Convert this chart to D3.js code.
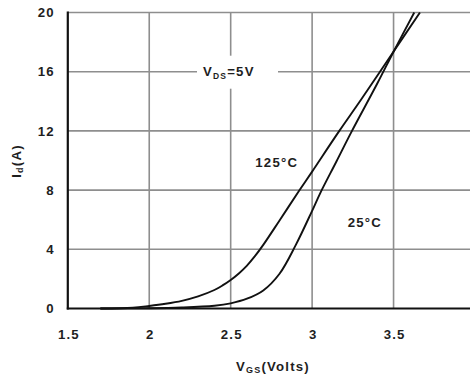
<!DOCTYPE html>
<html><head><meta charset="utf-8">
<script src="https://cdn.jsdelivr.net/npm/d3@7"></script>
<style>body{margin:0;background:#fff}svg{display:block}</style>
</head><body>
<svg id="c" width="470" height="376"></svg>
<script>
const xTicks = [1.5, 2, 2.5, 3, 3.5, 4];
const xTickLabels = ["1.5", "2", "2.5", "3", "3.5", "4"];
const yTicks = [0, 4, 8, 12, 16, 20];
const vgs125 = [1.7, 1.9, 2.0, 2.1, 2.2, 2.3, 2.4, 2.45, 2.5, 2.55, 2.6, 2.65, 2.7, 2.8, 2.92, 3.0, 3.167, 3.3, 3.49, 3.662];
const id125  = [0, 0.05, 0.17, 0.32, 0.52, 0.82, 1.25, 1.56, 1.93, 2.37, 2.9, 3.55, 4.3, 5.95, 7.95, 9.25, 12.0, 14.1, 17.2, 20];
const vgs25 = [1.7, 2.0, 2.2, 2.4, 2.5, 2.6, 2.7, 2.8, 2.9, 3.0, 3.05, 3.15, 3.24, 3.4, 3.5, 3.627];
const id25  = [0, 0.02, 0.07, 0.19, 0.35, 0.66, 1.22, 2.35, 4.3, 6.6, 7.8, 9.95, 11.9, 15.2, 17.35, 20];
const labels = [
  {t: "125°C", v: 2.779, i: 9.9},
  {t: "25°C", v: 3.32, i: 5.85}
];

const svg = d3.select("#c");
const x = d3.scaleLinear().domain([1.5, 4]).range([67.8, 475]);
const y = d3.scaleLinear().domain([0, 20]).range([308.5, 12.5]);
const txt = "#1e1e1e";
const font = "Liberation Sans, Arial, sans-serif";
const fs = 13.2, ls = 1.2;
function sty(sel) {
  return sel.attr("font-family", font).attr("font-size", fs).attr("font-weight", "bold")
    .attr("letter-spacing", ls).attr("fill", txt);
}

// grid
const g = svg.append("g");
g.selectAll(".vg").data(xTicks.slice(1)).join("line")
  .attr("x1", d => x(d)).attr("x2", d => x(d)).attr("y1", y(20)).attr("y2", y(0))
  .attr("stroke", "#8e8e8e").attr("stroke-width", 1.6);
g.selectAll(".hg").data(yTicks.slice(1)).join("line")
  .attr("x1", x(1.5)).attr("x2", 470).attr("y1", d => y(d)).attr("y2", d => y(d))
  .attr("stroke", "#8e8e8e").attr("stroke-width", 1.6);

// axes via d3
const xAxis = d3.axisBottom(x).tickValues(xTicks).tickFormat((d, i) => xTickLabels[i]).tickSize(0).tickPadding(25.5);
const yAxis = d3.axisLeft(y).tickValues(yTicks).tickSize(0).tickPadding(13);
const ga = svg.append("g").attr("transform", `translate(0,${y(0)})`).call(xAxis);
const gy = svg.append("g").attr("transform", `translate(${x(1.5)},0)`).call(yAxis);
[ga, gy].forEach(a => {
  a.select(".domain").remove();
  sty(a.selectAll("text"));
});
ga.selectAll("text").attr("dy", "0.35em").attr("dx", ls / 2);

// frame lines
svg.append("line").attr("x1", x(1.5)).attr("x2", x(1.5)).attr("y1", y(20) - 1).attr("y2", y(0) + 1)
  .attr("stroke", "#111").attr("stroke-width", 2.2);
svg.append("line").attr("x1", x(1.5) - 1).attr("x2", 470).attr("y1", y(0)).attr("y2", y(0))
  .attr("stroke", "#111").attr("stroke-width", 2.2);

// VDS label with white box
const bx = x(2.33), by = y(16);
svg.append("rect").attr("x", bx - 6).attr("y", by - 16).attr("width", 81).attr("height", 33).attr("fill", "#fff");
const vt = sty(svg.append("text").attr("x", bx).attr("y", by + 4.5));
vt.append("tspan").text("V");
vt.append("tspan").text("DS").attr("font-size", 8.5).attr("dy", 3);
vt.append("tspan").text("=5V").attr("dy", -3);

// curves
const line = d3.line().x(d => x(d[0])).y(d => y(d[1])).curve(d3.curveCatmullRom.alpha(0.5));
[[vgs125, id125], [vgs25, id25]].forEach(([vs, is]) => {
  svg.append("path").datum(vs.map((v, k) => [v, is[k]]))
    .attr("d", line).attr("fill", "none").attr("stroke", "#111").attr("stroke-width", 1.9);
});

// temperature labels
sty(svg.selectAll(".tl").data(labels).join("text")
  .attr("x", d => x(d.v)).attr("y", d => y(d.i))
  .attr("text-anchor", "middle").attr("dy", "0.35em").attr("dx", ls / 2))
  .text(d => d.t);

// axis titles
const xt = sty(svg.append("text").attr("x", 273).attr("y", 370.5).attr("text-anchor", "middle"));
xt.append("tspan").text("V");
xt.append("tspan").text("GS").attr("font-size", 9).attr("dy", 2);
xt.append("tspan").text("(Volts)").attr("dy", -2);

const yt = sty(svg.append("text").attr("transform", "translate(20.5,161) rotate(-90)").attr("text-anchor", "middle"));
yt.append("tspan").text("I");
yt.append("tspan").text("d").attr("font-size", 9).attr("dy", 2);
yt.append("tspan").text("(A)").attr("dy", -2);
</script>
</body></html>
